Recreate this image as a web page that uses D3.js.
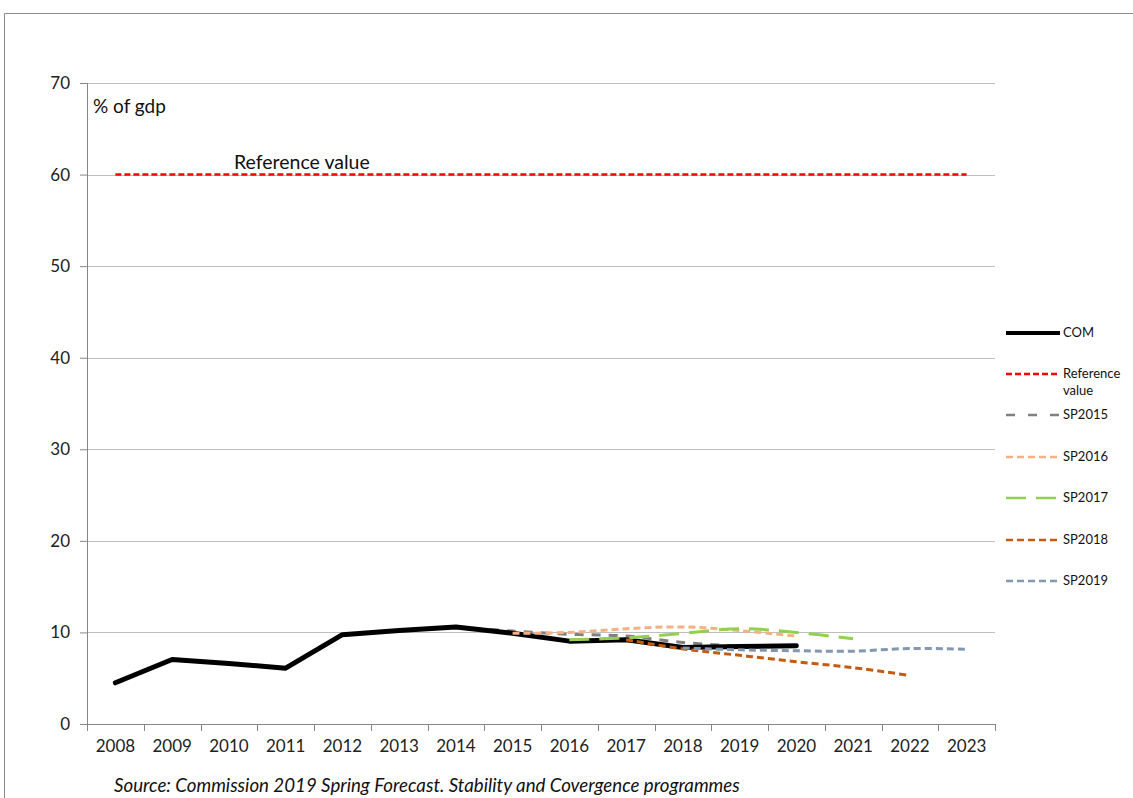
<!DOCTYPE html>
<html>
<head>
<meta charset="utf-8">
<script src="https://cdn.jsdelivr.net/npm/d3@7"></script>
<style>
  body { margin: 0; background: #fff; }
  svg { display: block; font-family: Lato, "Noto Sans", sans-serif; }
</style>
</head>
<body>
<svg width="1133" height="798"></svg>
<script>
const years = ["2008","2009","2010","2011","2012","2013","2014","2015","2016","2017","2018","2019","2020","2021","2022","2023"];
const y_ticks = [0, 10, 20, 30, 40, 50, 60, 70];

const com = [4.5, 7.05, 6.6, 6.1, 9.75, 10.2, 10.6, 9.9, 9.05, 9.2, 8.35, 8.45, 8.55];
const reference_value = [60, 60, 60, 60, 60, 60, 60, 60, 60, 60, 60, 60, 60, 60, 60, 60];
const sp2015 = [10.6, 10.15, 9.8, 9.6, 8.9, 8.5];          // 2014-2019
const sp2016 = [9.9, 10.0, 10.4, 10.6, 10.2, 9.6];         // 2015-2020
const sp2017 = [9.2, 9.4, 9.9, 10.4, 10.0, 9.3];           // 2016-2021
const sp2018 = [9.2, 8.2, 7.5, 6.8, 6.15, 5.3];            // 2017-2022
const sp2019 = [8.3, 8.1, 8.0, 7.95, 8.25, 8.15];          // 2018-2023

const series = [
  { name: "COM", start: "2008", values: com, color: "#000000", width: 5, dash: null, curve: d3.curveLinear },
  { name: "Reference value", start: "2008", values: reference_value, color: "#ff0000", width: 2.5, dash: "6,3", curve: d3.curveLinear },
  { name: "SP2015", start: "2014", values: sp2015, color: "#808080", width: 3, dash: "9,8", curve: d3.curveCatmullRom },
  { name: "SP2016", start: "2015", values: sp2016, color: "#f4b183", width: 3, dash: "7,4", curve: d3.curveCatmullRom },
  { name: "SP2017", start: "2016", values: sp2017, color: "#92d050", width: 3, dash: "20,10", curve: d3.curveCatmullRom },
  { name: "SP2018", start: "2017", values: sp2018, color: "#c55a11", width: 3, dash: "7,4", curve: d3.curveCatmullRom },
  { name: "SP2019", start: "2018", values: sp2019, color: "#8497b0", width: 3, dash: "7,4", curve: d3.curveCatmullRom }
];

const svg = d3.select("svg");
const width = +svg.attr("width");
const height = +svg.attr("height");

// outer chart frame
svg.append("path")
  .attr("d", `M4.5,${height} L4.5,13.5 L${width},13.5`)
  .attr("fill", "none")
  .attr("stroke", "#8c8c8c")
  .attr("stroke-width", 1);

const margin = { top: 83, right: 138, bottom: 74, left: 87 };
const inner_width = width - margin.left - margin.right;
const inner_height = height - margin.top - margin.bottom;

const plot_g = svg.append("g")
  .attr("transform", `translate(${margin.left}, ${margin.top})`);

const x_scale = d3.scaleBand().domain(years).range([0, inner_width]);
const x_center = (yr) => x_scale(yr) + x_scale.bandwidth() / 2;
const y_scale = d3.scaleLinear().domain([0, 70]).range([inner_height, 0]);

// gridlines
plot_g.append("g")
  .selectAll("line")
  .data(y_ticks.filter((d) => d > 0))
  .enter()
  .append("line")
  .attr("x1", 0)
  .attr("x2", inner_width)
  .attr("y1", (d) => Math.round(y_scale(d)) + 0.5)
  .attr("y2", (d) => Math.round(y_scale(d)) + 0.5)
  .attr("stroke", "#bfbfbf")
  .attr("stroke-width", 1);

// y axis
const y_axis = plot_g.append("g")
  .call(d3.axisLeft(y_scale).tickValues(y_ticks).tickSize(7).tickPadding(10));
y_axis.select(".domain").attr("stroke", "#868686");
y_axis.selectAll(".tick line").attr("stroke", "#868686");
y_axis.selectAll(".tick text")
  .attr("font-size", "17px")
  .attr("fill", "#222")
  .attr("font-family", "Lato, 'Noto Sans', sans-serif");

// x axis
const x_axis = plot_g.append("g")
  .attr("transform", `translate(0, ${inner_height})`)
  .call(d3.axisBottom(x_scale).tickSize(0).tickPadding(16));
x_axis.select(".domain").attr("stroke", "#868686");
x_axis.selectAll(".tick text")
  .attr("font-size", "17px")
  .attr("fill", "#222")
  .attr("font-family", "Lato, 'Noto Sans', sans-serif");

// category boundary ticks
plot_g.append("g")
  .selectAll("line")
  .data(years.map((y) => x_scale(y)).concat([inner_width]))
  .enter()
  .append("line")
  .attr("x1", (d) => Math.round(d) + 0.5)
  .attr("x2", (d) => Math.round(d) + 0.5)
  .attr("y1", inner_height)
  .attr("y2", inner_height + 7)
  .attr("stroke", "#868686");

// lines: reference and SP2015 under COM, other projections on top
const line_gen = (s) => d3.line()
  .curve(s.curve)
  .x((d, i) => x_center(years[years.indexOf(s.start) + i]))
  .y((d) => y_scale(d));

const ordered = [series[1], series[2], series[0], series[3], series[4], series[5], series[6]];

plot_g.append("g")
  .selectAll("path")
  .data(ordered)
  .enter()
  .append("path")
  .attr("d", (s) => line_gen(s)(s.values))
  .attr("fill", "none")
  .attr("stroke", (s) => s.color)
  .attr("stroke-width", (s) => s.width)
  .attr("stroke-dasharray", (s) => s.dash)
  .attr("stroke-linejoin", "round")
  .attr("stroke-linecap", (s) => s.dash ? "butt" : "round");

// annotations
plot_g.append("text")
  .attr("x", 6)
  .attr("y", 30)
  .attr("font-size", "19px")
  .attr("fill", "#111")
  .text("% of gdp");

plot_g.append("text")
  .attr("x", 147)
  .attr("y", y_scale(60) - 6)
  .attr("font-size", "19.5px")
  .attr("fill", "#111")
  .text("Reference value");

// legend
const legend_rows = [
  { s: series[0], y: 333, lines: ["COM"] },
  { s: series[1], y: 374, lines: ["Reference", "value"] },
  { s: series[2], y: 415, lines: ["SP2015"] },
  { s: series[3], y: 457, lines: ["SP2016"] },
  { s: series[4], y: 498, lines: ["SP2017"] },
  { s: series[5], y: 540, lines: ["SP2018"] },
  { s: series[6], y: 581, lines: ["SP2019"] }
];

const legend_g = svg.append("g");
const rows = legend_g.selectAll("g")
  .data(legend_rows)
  .enter()
  .append("g")
  .attr("transform", (d) => `translate(1006, ${d.y})`);

rows.append("line")
  .attr("x1", 0)
  .attr("x2", 54)
  .attr("y1", 0)
  .attr("y2", 0)
  .attr("stroke", (d) => d.s.color)
  .attr("stroke-width", (d) => d.s.name === "COM" ? 4 : 2.5)
  .attr("stroke-dasharray", (d) => d.s.name === "SP2015" ? "9,13" : d.s.dash);

rows.append("text")
  .attr("x", 57)
  .attr("y", 4)
  .attr("font-size", "13px")
  .attr("fill", "#111")
  .each(function (d) {
    d3.select(this).selectAll("tspan")
      .data(d.lines)
      .enter()
      .append("tspan")
      .attr("x", 57)
      .attr("dy", (t, i) => i === 0 ? 0 : 17)
      .text((t) => t);
  });

// source
svg.append("text")
  .attr("x", 114)
  .attr("y", 792)
  .attr("font-size", "18.7px")
  .attr("font-style", "italic")
  .attr("fill", "#111")
  .text("Source: Commission 2019 Spring Forecast. Stability and Covergence programmes");
</script>
</body>
</html>
